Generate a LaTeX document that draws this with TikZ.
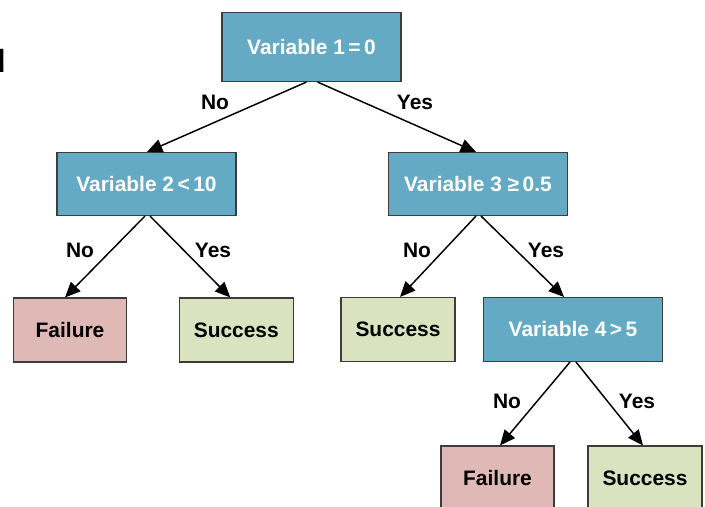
\documentclass[tikz,border=0pt]{standalone}
\usepackage{fontspec}
\newfontfamily\hv{Liberation Sans}
\usetikzlibrary{arrows.meta,calc}
\definecolor{nodeblue}{RGB}{100,170,196}
\definecolor{failpink}{RGB}{222,185,182}
\definecolor{succgreen}{RGB}{217,227,192}
\definecolor{edgegray}{RGB}{60,60,60}
\tikzset{
  base/.style={draw=edgegray, line width=0.8pt, inner sep=0pt, font=\hv\bfseries\fontsize{15.7}{18}\selectfont},
  decision/.style={base, fill=nodeblue, text=white, minimum width=134.25pt, minimum height=47.25pt},
  fail/.style={base, fill=failpink, text=black, minimum width=84.75pt, minimum height=48pt},
  succ/.style={base, fill=succgreen, text=black, minimum width=85.5pt, minimum height=48pt},
  lbl/.style={font=\hv\bfseries\fontsize{15.7}{18}\selectfont, inner sep=0pt},
  arr/.style={-{Triangle[length=11.5pt,width=10pt]}, line width=1.1pt, black},
}
\begin{document}
\begin{tikzpicture}[x=0.75pt,y=-0.75pt]
\useasboundingbox (0,0) rectangle (705,506);
\node[font=\hv\bfseries\fontsize{24}{28}\selectfont, anchor=base east, inner sep=0pt] (cut) at (6,73) {d};
\node[decision, minimum height=51.75pt] (top) at (311.5,47) {Variable 1\,=\,0};
\node[decision] (v2) at (146.5,184) {Variable 2\,<\,10};
\node[decision] (v3) at (478,184) {Variable 3 ≥\,0.5};
\node[fail] (f1) at (70,330) {Failure};
\node[succ] (s1) at (236.3,330) {Success};
\node[succ] (s2) at (398,329.5) {Success};
\node[decision, minimum height=48pt] (v4) at (573,329.5) {Variable 4\,>\,5};
\node[fail] (f2) at (497.5,478) {Failure};
\node[succ] (s3) at (645,478) {Success};

\draw[arr] ($(top.south)+(-5,0)$) -- ($(v2.north)+(0.5,0)$);
\draw[arr] ($(top.south)+(6,0)$) -- ($(v3.north)+(-2,0)$);
\draw[arr] ($(v2.south)+(-1.5,0)$) -- ($(f1.north)+(-5,0)$);
\draw[arr] ($(v2.south)+(3.5,0)$) -- ($(s1.north)+(-6,0)$);
\draw[arr] ($(v3.south)+(-2,0)$) -- ($(s2.north)+(2,0)$);
\draw[arr] ($(v3.south)+(3,0)$) -- ($(v4.north)+(-9,0)$);
\draw[arr] ($(v4.south)+(-3,0)$) -- ($(f2.north)+(2.5,0)$);
\draw[arr] ($(v4.south)+(3,0)$) -- ($(s3.north)+(-2,0)$);

\node[lbl] (l1) at (215,102) {No};
\node[lbl] (l2) at (415,102) {Yes};
\node[lbl] (l3) at (80,250) {No};
\node[lbl] (l4) at (213,250) {Yes};
\node[lbl] (l5) at (417,250) {No};
\node[lbl] (l6) at (546,250) {Yes};
\node[lbl] (l7) at (507,401) {No};
\node[lbl] (l8) at (637,401) {Yes};
\end{tikzpicture}
\end{document}
